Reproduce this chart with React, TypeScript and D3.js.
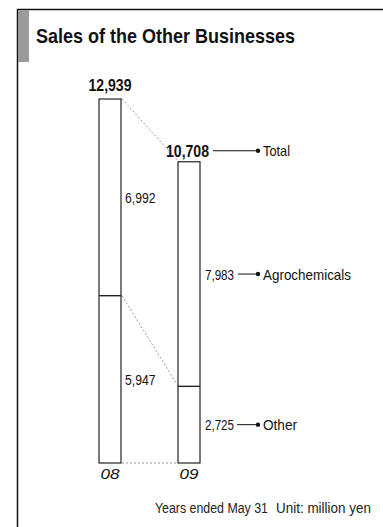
import React from "react";
import * as d3 from "d3";

const years = ["08", "09"];
const agrochemicals = [6992, 7983];
const other = [5947, 2725];
const totals = [12939, 10708];
const seriesNames = ["Total", "Agrochemicals", "Other"];
const footnotes = ["Years ended May 31", "Unit: million yen"];

const W = 383;
const H = 527;
const FONT = "'Liberation Sans', Arial, sans-serif";
const fmt = d3.format(",");

// Condensed text: regular sans squeezed to a given width
function T(props: {
  x: number;
  y: number;
  w: number;
  size: number;
  bold?: boolean;
  italic?: boolean;
  anchor?: "start" | "middle" | "end";
  fill?: string;
  children: React.ReactNode;
}) {
  return (
    <text
      x={props.x}
      y={props.y}
      textAnchor={props.anchor || "start"}
      fontFamily={FONT}
      fontWeight={props.bold ? "bold" : "normal"}
      fontStyle={props.italic ? "italic" : "normal"}
      fontSize={props.size}
      fill={props.fill || "#111"}
      textLength={props.w}
      lengthAdjust="spacingAndGlyphs"
    >
      {props.children}
    </text>
  );
}

export default function App() {
  const x = d3.scaleBand().domain(years).range([99, 200]).paddingInner(0.7215).paddingOuter(0);
  const y = d3.scaleLinear().domain([0, 12939]).range([463, 99]);
  const bw = x.bandwidth();

  const stacks = years.map((yr, i) => ({
    yr,
    x0: x(yr)!,
    total: totals[i],
    other: other[i],
    agro: agrochemicals[i],
  }));
  const a = stacks[0];
  const b = stacks[1];
  const legendX = 258;

  const rows = [
    { v: b.total, name: seriesNames[0], cy: y(b.total) - 11, bold: true, lx: 213, nw: 27 },
    { v: b.agro, name: seriesNames[1], cy: (y(b.total) + y(b.other)) / 2, bold: false, lx: 238, nw: 88 },
    { v: b.other, name: seriesNames[2], cy: (y(b.other) + y(0)) / 2, bold: false, lx: 237, nw: 34 },
  ];

  return (
    <svg width={W} height={H} style={{ position: "absolute", left: 0, top: 0 }}>
      <rect x={0} y={0} width={W} height={H} fill="#fff" />
      {/* frame */}
      <line x1={17} y1={9.5} x2={W} y2={9.5} stroke="#111" strokeWidth={1.5} />
      <line x1={17.5} y1={9} x2={17.5} y2={H} stroke="#111" strokeWidth={1.5} />
      <rect x={18} y={10} width={11} height={52} fill="#9a9a9a" />
      <T x={36} y={43} w={259} size={20.5} bold>
        Sales of the Other Businesses
      </T>

      {/* connectors between bars */}
      <g stroke="#999" strokeWidth={1} strokeDasharray="2,2" fill="none">
        <line x1={a.x0 + bw + 1} y1={y(a.total)} x2={b.x0 - 1} y2={y(b.total) - 2} />
        <line x1={a.x0 + bw + 1} y1={y(a.other)} x2={b.x0 - 1} y2={y(b.other) - 2} />
        <line x1={a.x0 + bw + 1} y1={y(0)} x2={b.x0 - 1} y2={y(0)} />
      </g>

      {stacks.map((s) => (
        <g key={s.yr}>
          <rect x={s.x0} y={y(s.total)} width={bw} height={y(0) - y(s.total)} fill="#fff" stroke="#222" strokeWidth={1.2} />
          <line x1={s.x0} x2={s.x0 + bw} y1={y(s.other)} y2={y(s.other)} stroke="#222" strokeWidth={1.4} />
          <T x={s.x0 + bw / 2} y={479} w={19} size={15.5} italic anchor="middle">
            {s.yr}
          </T>
        </g>
      ))}

      {/* 08 labels */}
      <T x={a.x0 + bw / 2} y={91} w={43} size={16.5} bold anchor="middle">
        {fmt(a.total)}
      </T>
      <T x={125} y={(y(a.total) + y(a.other)) / 2 + 5.5} w={30.5} size={15}>
        {fmt(a.agro)}
      </T>
      <T x={125} y={(y(a.other) + y(0)) / 2 + 5.5} w={30.5} size={15}>
        {fmt(a.other)}
      </T>

      {/* 09 labels with leader lines */}
      {rows.map((d) => (
        <g key={d.name}>
          <T
            x={d.bold ? 209 : 205}
            y={d.cy + (d.bold ? 6 : 5.5)}
            w={d.bold ? 43 : 29}
            size={d.bold ? 16.5 : 15}
            bold={d.bold}
            anchor={d.bold ? "end" : "start"}
          >
            {fmt(d.v)}
          </T>
          <line x1={d.lx} x2={legendX} y1={d.cy} y2={d.cy} stroke="#111" strokeWidth={1} />
          <circle cx={legendX} cy={d.cy} r={2.2} fill="#111" />
          <T x={legendX + 5} y={d.cy + 5.5} w={d.nw} size={15}>
            {d.name}
          </T>
        </g>
      ))}

      <T x={155} y={513} w={113} size={14} fill="#222">
        {footnotes[0]}
      </T>
      <T x={276} y={513} w={95} size={14} fill="#222">
        {footnotes[1]}
      </T>
    </svg>
  );
}
